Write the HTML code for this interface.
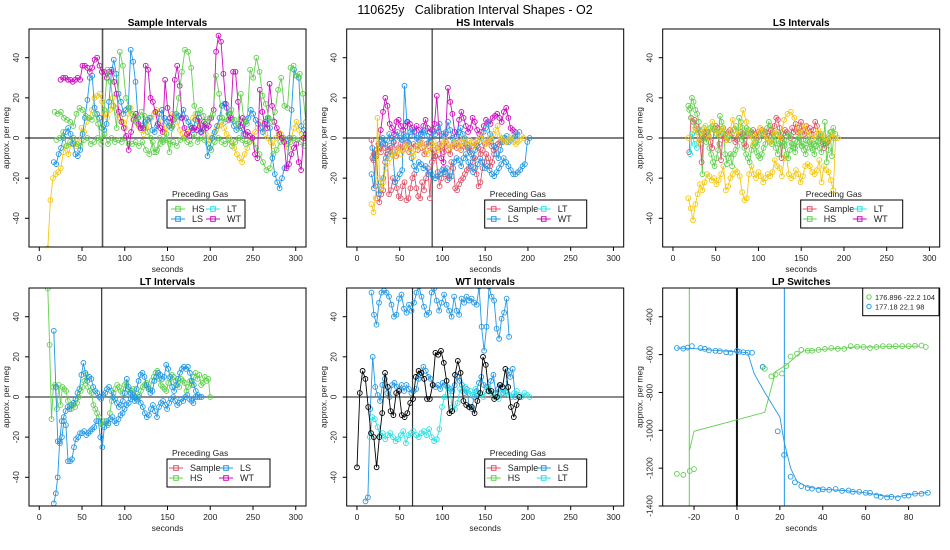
<!DOCTYPE html>
<html><head><meta charset="utf-8"><style>
html,body{margin:0;padding:0;background:#fff;}
svg{display:block;font-family:"Liberation Sans",Arial,sans-serif;}
</style></head><body>
<svg id="chart" width="950" height="550" viewBox="0 0 950 550" xmlns="http://www.w3.org/2000/svg">
<rect width="950" height="550" fill="#fff"/>
<text x="475" y="14" font-size="12.5" text-anchor="middle" style="white-space:pre">110625y   Calibration Interval Shapes - O2</text>
</svg>
<script>
const RED="#DF536B",GRN="#61D04F",BLU="#2297E6",CYN="#28E2E5",MAG="#CD0BBC",YEL="#F5C710",BLK="#000";
// ---- panel 1 data (Sample Intervals) ----
const p1_hs1_x=[18,312];
const p1_hs1_y=[13,12,13,10,9,8,6,12,15,14,11,10,9,12,7,-3,14,34,28,16,5,43,36,20,15,12,8,10,13,11,3,0,-7,-6,-3,-1,2,-7,6,12,20,33,44,43,35,16,12,14,11,8,10,12,31,22,10,8,12,14,9,5,22,9,7,34,30,40,33,21,17,10,8,13,24,30,16,15,35,36,31,32,22,8];
const p1_hs2_x=[20,310];
const p1_hs2_y=[-1,0,3,-4,-2,0,-3,-4,-1,0,-3,-2,0,-1,2,-3,0,-2,-1,-2,0,-3,-3,-2,-4,-2,-6,-8,-2,-7,0,-2,-1,-3,-2,-4,-1,0,-2,-3,2,-2,0,-1,-3,-6,-2,0,-2,-3,-1,-4,-2,0,-1,-3,-2,0,-5,-8,-12,-16,-15,-8,-6,-2,0,-3,-2,0,-1,-2,-4];
const p1_ls1_x=[17,312];
const p1_ls1_y=[-12,-13,-8,-5,0,3,5,2,-3,-8,-9,-6,2,10,19,30,31,15,12,10,5,4,7,18,33,39,32,22,18,12,14,15,44,38,28,10,5,6,8,9,10,4,3,6,12,14,10,8,6,5,9,12,11,10,14,10,8,6,4,9,12,3,5,7,-9,-5,0,3,6,10,16,17,15,12,9,6,4,7,5,2,8,10,14,12,9,7,5,3,8,10,5,-10,-18,-22,-25,-20,-15,-14,0,14,34,31,30,6,4,2];
const p1_wt1_x=[25,312];
const p1_wt1_y=[29,30,30,29,29,28,29,30,29,36,36,35,33,35,39,40,36,33,33,30,33,34,28,22,13,8,5,1,-6,3,9,12,7,5,5,36,34,20,18,13,7,5,3,29,15,10,6,29,36,26,10,5,2,1,5,5,4,10,3,8,5,6,10,14,43,51,48,32,17,9,10,33,33,18,6,10,2,3,1,0,-8,-10,24,13,7,5,27,16,8,5,2,0,-2,-15,-13,-8,-5,-3,-12,-16,0,2];
const p1_y1_x=[10,310];
const p1_y1_y=[-55,-31,-20,-18,-17,-15,-7,-4,-8,-3,-3,-4,-2,5,3,8,10,14,20,21,22,18,12,10,14,20,15,12,10,8,5,12,15,10,8,6,4,2,5,8,10,12,14,10,6,3,5,8,12,10,8,4,2,0,3,6,10,12,8,6,4,2,-1,0,2,4,6,8,5,2,0,-2,-5,-8,-10,-12,-8,-5,-2,0,3,5,8,5,2,0,-2,-4,0,3,2,0,-3,-5,0,5,8,4,2,0];
// ---- panel 2 data (HS Intervals) ----
const p2_s1_x=[17,165];
const p2_s1_y=[-1,-11,-24,-30,-32,-28,-26,-12,-8,-28,-26,-20,-22,-25,-29,-30,-24,-22,-31,-30,-25,-20,-18,-25,-29,-30,-22,-26,-20,-15,-30,-12,-10,-9,-17,-24,-20,-15,-18,-21,-19,-12,-15,-25,-26,-23,-21,-20,-18,-16,-15,-14,-12,-10,-18,-24,-22,-15,-12,-8,-10,-14,-12,-8,-5,-3];
const p2_s2_x=[18,175];
const p2_s2_y=[-10,-8,-6,-5,-7,-3,-5,-6,-4,-8,-2,-9,-5,-3,-6,-4,-2,-7,-5,-3,-4,-6,-2,-5,-8,-3,-4,-2,-6,-9,-5,-3,-4,-7,-2,-6,-8,-4,-3,-5,-2,-6,-4,-3,-5,-7,-4,-2,-3,-5,-8,-6,-3,-2,-1,-4,-6,-5,-3,-2,-1,0,-2];
const p2_ls1_x=[17,202];
const p2_ls1_y=[-18,-25,-6,-28,-22,-20,-10,-8,-5,-7,-22,-20,-18,-16,26,8,-3,-10,-14,-16,-12,-13,-15,-14,-18,-17,-19,-20,-19,-18,-16,-17,-15,-20,-19,-12,-10,-11,-14,-10,-8,-12,-14,-17,-15,-13,-10,-12,-15,-14,-16,-18,-19,-17,-15,-13,-10,-12,-14,-16,-18,-18,-17,-16,-14,-13,-2,0];
const p2_ls2_x=[18,190];
const p2_ls2_y=[-5,-10,-8,-4,-2,0,-3,-1,2,0,-2,1,3,0,-1,2,1,-2,3,4,1,0,-1,2,3,4,1,-2,0,3,2,5,7,2,1,3,8,4,0,-2,1,3,5,2,0,-3,-5,-8,-10,-6,-4,-2,0,3,5,8,2,0,-4,-8,-10,-6,-2,0,1,-2,-1,0,1,2,3];
const p2_wt1_x=[20,185];
const p2_wt1_y=[-8,-9,-3,4,13,20,16,7,5,2,8,9,6,4,6,8,7,5,3,6,4,2,6,9,5,3,4,7,21,3,-10,-12,2,25,18,12,3,1,9,13,10,6,3,5,10,8,4,2,3,6,9,8,7,10,11,12,10,8,13,15,10,5,4,3];
const p2_y1_x=[17,195];
const p2_y1_y=[-33,-37,-30,10,-20,-25,-22,-15,-12,-10,-8,-7,-9,-6,-5,-8,-6,-4,-3,-5,-7,-9,-6,-4,-3,-2,-4,-6,-8,-5,-3,-2,-4,-6,-5,-3,-2,-1,-3,-5,-4,-2,-1,-3,-5,-2,0,-2,-3,-1,-2,-4,-3,-1,0,2,-1,-3,-2,0,-1,2,4,6,1,0,-1,-2,-1,0,1,-2,-3,-2,-1,1,0];
// ---- panel 3 data (LS Intervals) ----
const p3_hs1_x=[18,188];
const p3_hs1_y=[16,15,20,18,14,12,8,-3,-18,5,3,0,-5,-8,-12,-14,-10,-6,11,8,5,-8,-13,-10,-8,-14,-8,-6,-4,10,8,5,-5,-8,-10,-12,-6,-4,-3,-7,-9,-10,-8,-5,-3,5,8,6,2,-2,-5,-8,-3,0,2,-4,-8,-10,-6,-3,-5,-7,-2,0,3,-4,-6,-8,-5,-2,-3,-6,-8,-4,-2,-5,-7,-3,8,-12,-6,3,-9,0];
const p3_hs2_x=[19,190];
const p3_hs2_y=[14,10,8,5,3,4,2,0,-2,3,5,6,4,2,1,3,5,2,0,-1,2,4,6,3,1,-1,2,5,4,3,1,-2,-4,-1,2,3,1,0,-2,-3,-1,2,3,-2,-4,-3,-1,2,1,-3,-5,-2,0,-4,-3,-1,1,-2,-5,-3,-1,0,2,-1,-3,-2,1,3,5,2];
const p3_s1_x=[19,183];
const p3_s1_y=[-7,10,8,9,6,4,-1,-12,0,2,3,1,-2,-5,4,6,5,-3,-11,2,0,-1,3,4,2,0,-2,-1,1,3,2,-3,-4,2,1,3,4,2,0,3,5,4,2,3,0,1,4,3,6,10,9,5,-10,2,4,3,2,0,5,3,7,3,5,8,4,2,6,3,5,2,4,8,6,2,1,-2,-5,-3,-2,0];
const p3_y1_x=[18,193];
const p3_y1_y=[-30,-35,-41,-33,-28,-23,-26,-22,-18,-19,-21,-20,-23,-21,-18,-14,-26,-24,-20,-18,-16,-17,-19,-27,-31,-30,-18,-14,-18,-20,-17,-19,-22,-20,-18,-19,-17,-11,-14,-15,-19,-10,-9,-18,-20,-19,-16,-18,-22,-19,-14,-13,-14,-17,-18,-16,-11,-22,-14,-16,-17,-21,-26,0,0];
const p3_y2_x=[18,190];
const p3_y2_y=[0,2,5,-2,3,6,0,8,4,2,5,-1,3,9,2,4,14,8,1,-3,2,5,3,0,-2,4,2,0,9,12,13,10,4,2,6,3,0,1,4,2,0,-1,2,0];
const p3_lt1_x=[20,28];
const p3_lt1_y=[-8,2,-3,-5];
// ---- panel 4 data (LT Intervals) ----
const p4_hs1_x=[10,200];
const p4_hs1_y=[54,26,-11,5,6,-6,6,-4,5,4,3,-2,-5,-6,-4,-5,-3,0,3,5,8,11,5,3,2,-4,-6,-8,-10,-13,-14,-12,-13,-14,-8,-2,2,4,6,5,3,2,6,7,4,2,3,4,0,-2,1,3,5,6,7,5,4,8,10,12,13,9,6,5,4,3,7,9,11,10,8,6,5,9,8,7,3,5,8,6,10,12,9,11,6,7,10,8,9,0];
const p4_ls1_x=[17,185];
const p4_ls1_y=[33,5,-22,-23,-20,-12,-14,-32,-32,-31,-25,-21,-20,-18,-18,-17,-19,-18,-17,-16,-15,-12,-12,-20,-25,-15,-12,-13,-11,-10,-12,-13,-11,-9,-8,-6,-4,-3,-1,0,-2,-1,0,-3,-5,-8,-10,-9,-6,-4,-7,-10,-5,-3,-2,-4,-6,-3,-1,0,-2,-4,-3,-1,-2,0,1,-1,-2,-3,0,0];
const p4_ls2_x=[17,190];
const p4_ls2_y=[-53,-48,-40,-22,-12,-10,-7,-5,-6,-4,-3,-1,2,4,11,17,12,8,10,9,5,3,2,0,-1,1,2,4,5,3,0,-1,-3,-5,-4,-2,2,9,5,2,1,0,4,8,11,12,10,6,4,2,3,8,10,12,11,9,10,16,14,10,5,3,6,9,12,14,15,14,15,12,8,6,3,1,0,0];
// ---- panel 5 data (WT Intervals) ----
const p5_k1_x=[0,190];
const p5_k1_y=[-35,2,13,9,-5,-18,-20,-35,-20,-8,12,5,-7,-9,2,3,-9,-10,-8,-3,-1,10,13,12,9,-1,-1,6,22,21,23,17,8,-8,-7,11,18,12,-2,-4,-5,-5,-8,-2,2,20,16,3,3,-1,0,6,5,14,5,-5,-10,-4,0];
const p5_lt1_x=[15,202];
const p5_lt1_y=[-20,-10,-11,-15,-19,-18,-21,-19,-18,-20,-22,-21,-19,-17,-23,-19,-18,-17,-19,-20,-18,-17,-19,-16,-20,-22,-21,-16,-5,0,5,3,-5,-6,-3,4,3,5,2,3,1,4,2,1,0,3,5,2,1,0,-1,2,4,2,1,0,2,3,1,0,2,1,0];
const p5_ls1_x=[17,178];
const p5_ls1_y=[52,41,36,47,52,53,52,50,46,40,41,49,51,44,42,46,43,47,52,55,50,45,41,42,52,54,48,43,47,51,46,43,40,50,43,41,49,47,50,48,49,47,46,55,35,23,35,55,50,48,34,29,39,42,49,30];
const p5_ls2_x=[10,185];
const p5_ls2_y=[-52,-50,-6,20,5,1,-2,6,9,2,0,6,7,5,4,6,3,6,4,2,3,4,9,11,15,13,10,9,6,5,6,4,7,6,5,4,3,6,10,8,6,2,4,-5,-6,0,3,7,10,6,5,3,8,11,2,4,6,2,3,13,10,14,0];
// ---- panel 6 data (LP Switches) ----
const p6_g_x=[-28,-25,-22,-20,12,13,16,18,21,23,25,28,30,33,35,38,41,44,47,50,53,56,59,62,65,68,71,74,77,80,83,86,88];
const p6_g_y=[-1230,-1235,-1215,-1205,-665,-675,-715,-705,-700,-660,-610,-595,-575,-580,-580,-575,-570,-565,-570,-570,-555,-558,-560,-565,-560,-555,-556,-555,-555,-555,-553,-552,-560];
const p6_gl_x=[-22.2,-20,13,18,23,28,31,35,40,45,50,55,60,65,70,75,80,85];
const p6_gl_y=[-1110,-1005,-905,-690,-655,-605,-580,-578,-572,-568,-566,-560,-560,-560,-558,-556,-556,-555];
const p6_b_x=[-28,-25,-23,-21,-17,-15,-13,-10,-8,-5,-3,0,1,3,5,7,12,19,22,25,27,30,33,35,38,40,43,46,49,52,54,57,60,62,65,67,70,72,75,78,80,83,86,89];
const p6_b_y=[-565,-568,-563,-555,-565,-570,-578,-580,-582,-588,-590,-580,-585,-587,-590,-590,-665,-1005,-1130,-1245,-1275,-1295,-1305,-1308,-1315,-1312,-1315,-1310,-1320,-1318,-1325,-1325,-1330,-1330,-1345,-1352,-1355,-1352,-1358,-1345,-1345,-1335,-1335,-1330];
const p6_bl_x=[-28,-20,-10,0,5,8,13,20,22,25,28,33,40,50,60,70,75,80,89];
const p6_bl_y=[-565,-568,-578,-585,-590,-700,-800,-930,-1060,-1200,-1270,-1300,-1312,-1318,-1330,-1350,-1352,-1340,-1328];
const p6_legend=["176.896 -22.2 104","177.18 22.1 98"];
const xTicksA=[0,50,100,150,200,250,300];
const yTicksA=[-40,-20,0,20,40];
const xTicks6=[-20,0,20,40,60,80];
const yTicks6=[-1400,-1200,-1000,-800,-600,-400];

const svg=document.getElementById('chart');
const NS="http://www.w3.org/2000/svg";
function mk(tag,attrs,parent){const e=document.createElementNS(NS,tag);for(const k in attrs)e.setAttribute(k,attrs[k]);(parent||svg).appendChild(e);return e;}
function spread(xr,ys){const n=ys.length;return ys.map((v,i)=>[xr[0]+(xr[1]-xr[0])*(n>1?i/(n-1):0),v]);}

function panel(idx,cfg){
  const L=cfg.L,T=cfg.T,W=277,H=218;
  const sx=v=>L+(v-cfg.xlim[0])/(cfg.xlim[1]-cfg.xlim[0])*W;
  const sy=v=>T+H-(v-cfg.ylim[0])/(cfg.ylim[1]-cfg.ylim[0])*H;
  const g=mk('g',{});
  
  
  const cp=mk('clipPath',{id:'cp'+idx},g);mk('rect',{x:L,y:T,width:W,height:H},cp);
  const t=mk('text',{x:L+W/2,y:T-3,'font-size':10,'font-weight':'bold','text-anchor':'middle'},g);t.textContent=cfg.title;
  
  
  const plot=mk('g',{'clip-path':'url(#cp'+idx+')'},g);
  cfg.refs.forEach(r=>{
    let ln;
    if(r.v!==undefined) ln=mk('line',{x1:sx(r.v),x2:sx(r.v),y1:T,y2:T+H,stroke:r.c,'stroke-width':r.w},plot);
    else ln=mk('line',{x1:L,x2:L+W,y1:sy(r.h),y2:sy(r.h),stroke:r.c,'stroke-width':r.w},plot);
    
    
  });
  cfg.series.forEach(s=>{
    const pts=s.pts;
    const lp=s.line||pts;
    const pl=mk('polyline',{points:lp.map(p=>sx(p[0]).toFixed(1)+','+sy(p[1]).toFixed(1)).join(' '),fill:'none',stroke:s.c,'stroke-width':0.9},plot);
    
    
    pts.forEach(p=>{
      const c=mk('circle',{cx:sx(p[0]).toFixed(1),cy:sy(p[1]).toFixed(1),r:2.4,fill:'none',stroke:s.c,'stroke-width':0.9},plot);
      
      
    });
  });
  mk('rect',{x:L,y:T,width:W,height:H,fill:'none',stroke:'#000','stroke-width':1},g);
  cfg.xt.forEach(v=>{
    mk('line',{x1:sx(v),x2:sx(v),y1:T+H,y2:T+H+4,stroke:'#000'},g);
    const tx=mk('text',{x:sx(v),y:T+H+14,'font-size':8.5,'text-anchor':'middle',fill:'#222'},g);tx.textContent=v;
    
    
  });
  mk('line',{x1:sx(cfg.xt[0]),x2:sx(cfg.xt[cfg.xt.length-1]),y1:T+H,y2:T+H,stroke:'#000'},g);
  cfg.yt.forEach(v=>{
    mk('line',{x1:L,x2:L-4,y1:sy(v),y2:sy(v),stroke:'#000'},g);
    const ty=mk('text',{x:0,y:0,'font-size':8.5,'text-anchor':'middle',fill:'#222',transform:`translate(${L-10},${sy(v)}) rotate(-90)`},g);ty.textContent=v;
    
    
  });
  const xl=mk('text',{x:L+W/2,y:T+H+25,'font-size':8.5,'text-anchor':'middle',fill:'#222'},g);xl.textContent='seconds';
  
  
  const yl=mk('text',{x:0,y:0,'font-size':8.5,'text-anchor':'middle',fill:'#222',transform:`translate(${L-20},${T+H/2}) rotate(-90)`},g);yl.textContent='approx. per meg';
  
  
  if(cfg.legend){
    const lg=cfg.legend,LX=L+138,LY=T+171,LW=lg.w;
    const lgG=mk('g',{},g);
    
    
    const lt=mk('text',{x:LX+5,y:LY-3,'font-size':8.5,fill:'#222'},lgG);lt.textContent='Preceding Gas';
    mk('rect',{x:LX,y:LY,width:LW,height:28,fill:'#fff',stroke:'#000'},lgG);
    lg.items.forEach((it,i)=>{
      const col=i%2,row=Math.floor(i/2);
      const cx=LX+(col?lg.c2:lg.c1),cy=LY+9+row*10;
      const e=mk('g',{},lgG);
      
      
      mk('line',{x1:cx-7,x2:cx+7,y1:cy,y2:cy,stroke:it[1]},e);
      mk('rect',{x:cx-2.3,y:cy-2.3,width:4.6,height:4.6,fill:'none',stroke:it[1]},e);
      const tt=mk('text',{x:cx+14,y:cy+3.2,'font-size':9,fill:'#222'},e);tt.textContent=it[0];
    });
  }
  return {sx,sy,g};
}
const XL=[-12,312],YL=[-54.3,54.3];
const lw1={w:78,c1:11,c2:46};
const lw2={w:102,c1:9,c2:59};
panel(1,{name:'sample-intervals-panel',title:'Sample Intervals',L:29,T:29,xlim:XL,ylim:YL,xt:xTicksA,yt:yTicksA,
 refs:[{h:0,c:'#333',w:1.2},{v:74,c:'#555',w:1.6}],
 series:[{c:YEL,pts:spread(p1_y1_x,p1_y1_y)},{c:GRN,pts:spread(p1_hs2_x,p1_hs2_y)},{c:BLU,pts:spread(p1_ls1_x,p1_ls1_y)},{c:MAG,pts:spread(p1_wt1_x,p1_wt1_y)},{c:GRN,pts:spread(p1_hs1_x,p1_hs1_y)}],
 legend:Object.assign({items:[['HS',GRN],['LT',CYN],['LS',BLU],['WT',MAG]]},lw1)});
panel(2,{name:'hs-intervals-panel',title:'HS Intervals',L:346.7,T:29,xlim:XL,ylim:YL,xt:xTicksA,yt:yTicksA,
 refs:[{h:0,c:'#333',w:1.2},{v:88,c:'#555',w:1.4}],
 series:[{c:RED,pts:spread(p2_s1_x,p2_s1_y)},{c:BLU,pts:spread(p2_ls1_x,p2_ls1_y)},{c:MAG,pts:spread(p2_wt1_x,p2_wt1_y)},{c:RED,pts:spread(p2_s2_x,p2_s2_y)},{c:BLU,pts:spread(p2_ls2_x,p2_ls2_y)},{c:YEL,pts:spread(p2_y1_x,p2_y1_y)}],
 legend:Object.assign({items:[['Sample',RED],['LT',CYN],['LS',BLU],['WT',MAG]]},lw2)});
panel(3,{name:'ls-intervals-panel',title:'LS Intervals',L:662.7,T:29,xlim:XL,ylim:YL,xt:xTicksA,yt:yTicksA,
 refs:[{h:0,c:'#333',w:1.2}],
 series:[{c:YEL,pts:spread(p3_y1_x,p3_y1_y)},{c:GRN,pts:spread(p3_hs1_x,p3_hs1_y)},{c:RED,pts:spread(p3_s1_x,p3_s1_y)},{c:GRN,pts:spread(p3_hs2_x,p3_hs2_y)},{c:YEL,pts:spread(p3_y2_x,p3_y2_y)},{c:CYN,pts:spread(p3_lt1_x,p3_lt1_y)}],
 legend:Object.assign({items:[['Sample',RED],['LT',CYN],['HS',GRN],['WT',MAG]]},lw2)});
panel(4,{name:'lt-intervals-panel',title:'LT Intervals',L:29,T:288,xlim:XL,ylim:YL,xt:xTicksA,yt:yTicksA,
 refs:[{h:0,c:'#666',w:1.6},{v:73,c:'#333',w:1.2}],
 series:[{c:GRN,pts:spread(p4_hs1_x,p4_hs1_y)},{c:BLU,pts:spread(p4_ls1_x,p4_ls1_y)},{c:BLU,pts:spread(p4_ls2_x,p4_ls2_y)}],
 legend:Object.assign({items:[['Sample',RED],['LS',BLU],['HS',GRN],['WT',MAG]]},lw2,{w:103})});
panel(5,{name:'wt-intervals-panel',title:'WT Intervals',L:346.7,T:288,xlim:XL,ylim:YL,xt:xTicksA,yt:yTicksA,
 refs:[{h:0,c:'#666',w:1.6},{v:65,c:'#333',w:1.2}],
 series:[{c:BLU,pts:spread(p5_ls1_x,p5_ls1_y)},{c:BLU,pts:spread(p5_ls2_x,p5_ls2_y)},{c:CYN,pts:spread(p5_lt1_x,p5_lt1_y)},{c:BLK,pts:spread(p5_k1_x,p5_k1_y)}],
 legend:Object.assign({items:[['Sample',RED],['LS',BLU],['HS',GRN],['LT',CYN]]},lw2)});
const zip=(a,b)=>a.map((v,i)=>[v,b[i]]);
const P6=panel(6,{name:'lp-switches-panel',title:'LP Switches',L:662.7,T:288,xlim:[-34.6,94.5],ylim:[-1400,-248],xt:xTicks6,yt:yTicks6,
 refs:[{v:0,c:'#111',w:2},{v:-22.2,c:GRN,w:1},{v:22.1,c:BLU,w:1}],
 series:[{c:GRN,pts:zip(p6_g_x,p6_g_y),line:zip(p6_gl_x,p6_gl_y)},{c:BLU,pts:zip(p6_b_x,p6_b_y),line:zip(p6_bl_x,p6_bl_y)}]});
(function(){
  const lg=mk('g',{},P6.g);
  
  
  mk('rect',{x:862.7,y:288,width:76.3,height:27.7,fill:'#fff',stroke:'#000'},lg);
  [GRN,BLU].forEach((c,i)=>{
    const e=mk('g',{},lg);
    
    
    mk('circle',{cx:869,cy:297+i*9.5,r:2.2,fill:'none',stroke:c},e);
    const t=mk('text',{x:875,y:299.8+i*9.5,'font-size':7.4,fill:'#222'},e);t.textContent=p6_legend[i];
  });
})();
</script>
</body></html>
